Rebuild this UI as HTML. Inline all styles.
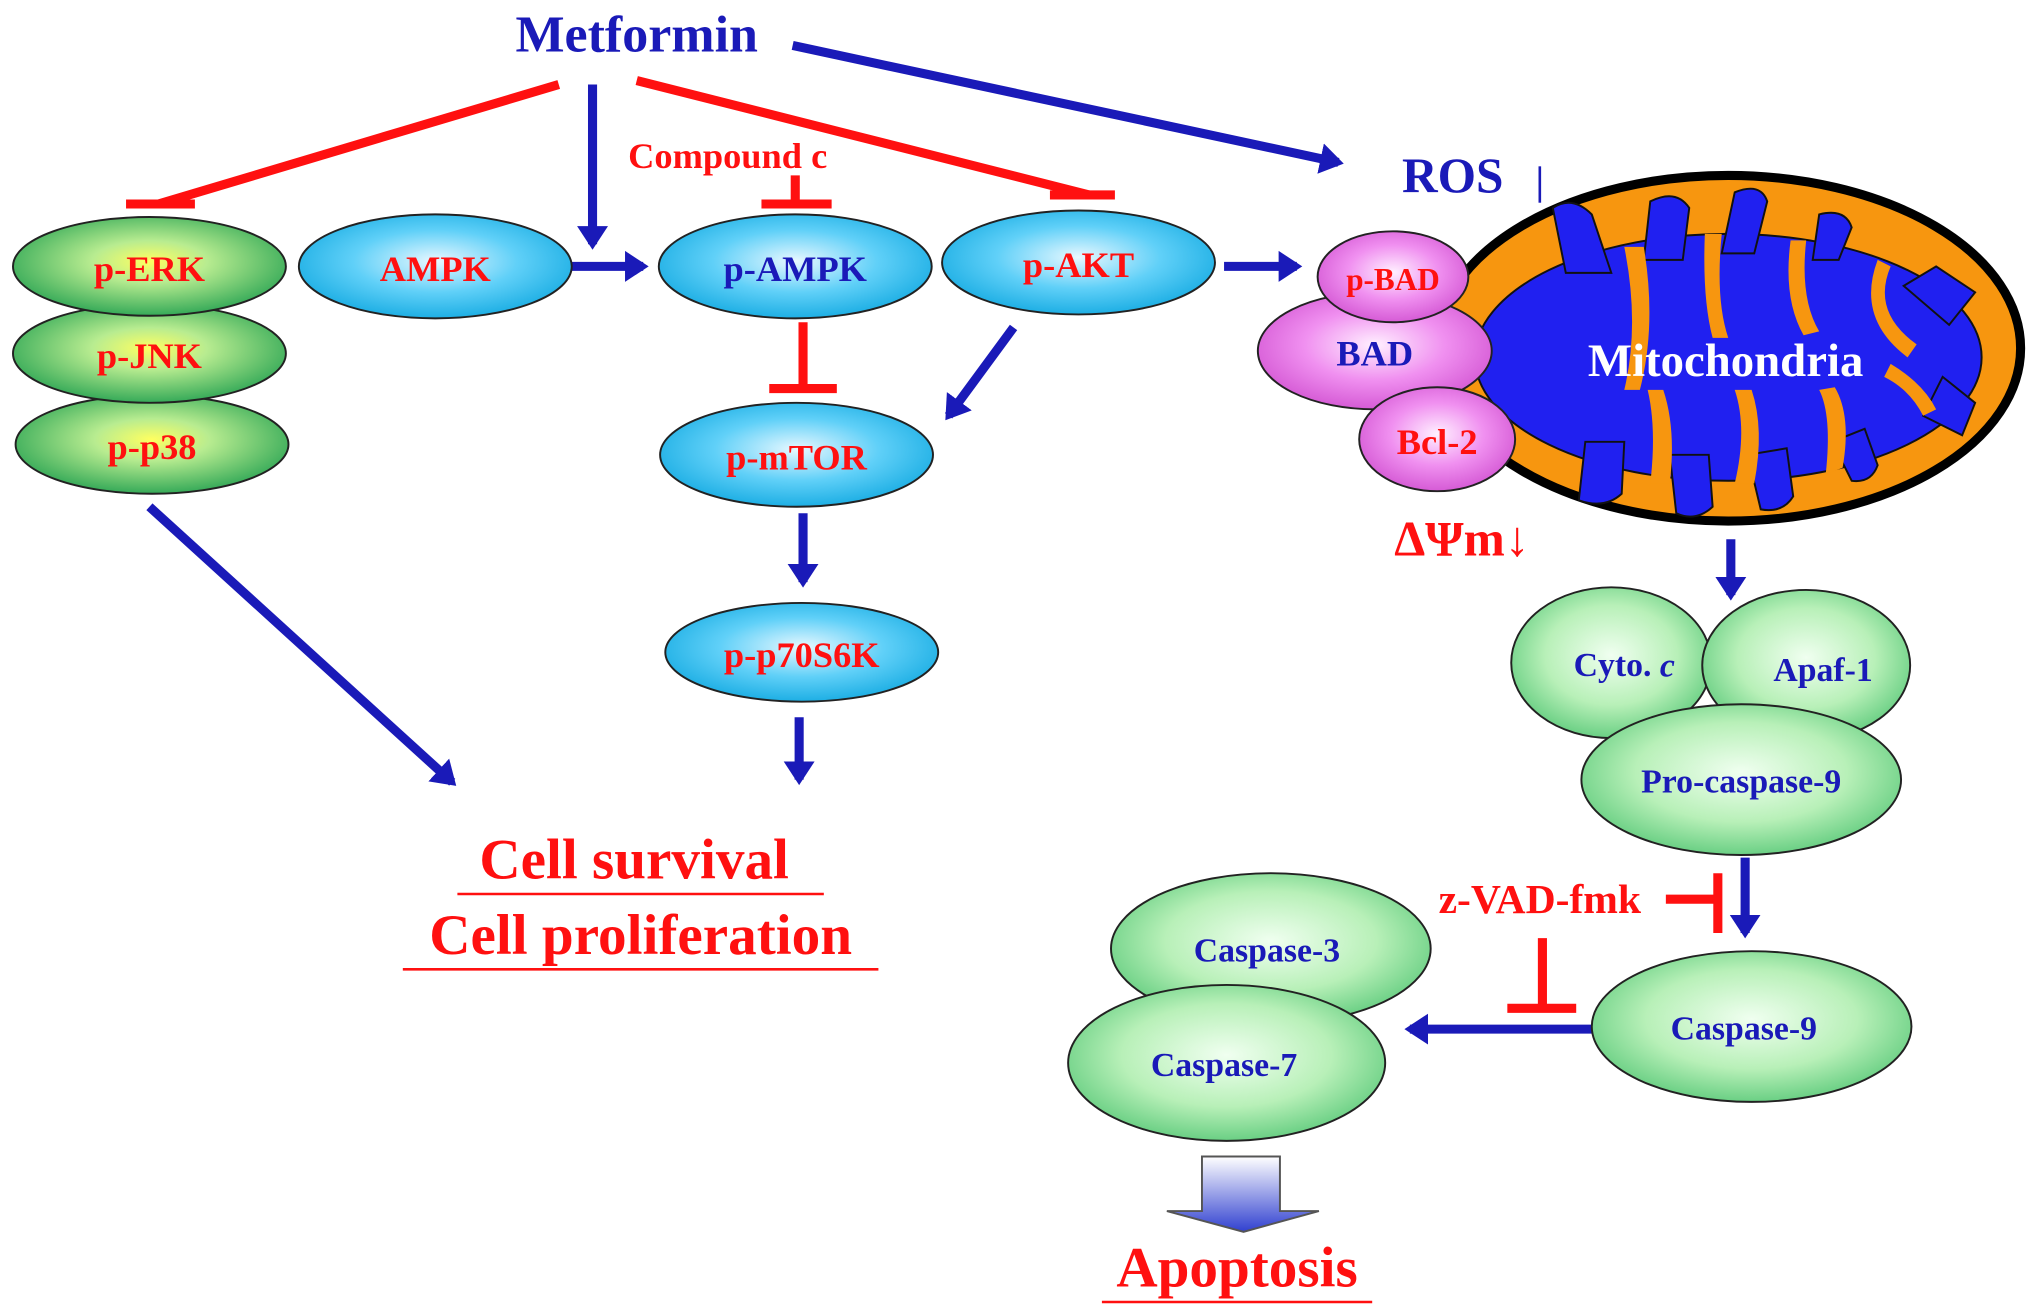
<!DOCTYPE html>
<html><head><meta charset="utf-8"><style>html,body{margin:0;padding:0;background:#fff}svg{display:block}</style></head><body>
<svg width="2031" height="1315" viewBox="0 0 1563 1012" preserveAspectRatio="none" xmlns="http://www.w3.org/2000/svg" font-family="Liberation Serif, serif" font-weight="bold">
<defs>
<radialGradient id="g" cx="50%" cy="45%" r="60%"><stop offset="0" stop-color="#ffff60"/><stop offset="0.35" stop-color="#b8ec90"/><stop offset="1" stop-color="#22a050"/></radialGradient>
<radialGradient id="c" cx="50%" cy="45%" r="60%"><stop offset="0" stop-color="#e8f8ff"/><stop offset="0.5" stop-color="#60d0f8"/><stop offset="1" stop-color="#10a8e0"/></radialGradient>
<radialGradient id="p" cx="50%" cy="45%" r="60%"><stop offset="0" stop-color="#fff0ff"/><stop offset="0.5" stop-color="#f090f0"/><stop offset="1" stop-color="#d050d0"/></radialGradient>
<radialGradient id="lg" cx="50%" cy="45%" r="60%"><stop offset="0" stop-color="#f0fff0"/><stop offset="0.55" stop-color="#b8f0b8"/><stop offset="1" stop-color="#58c878"/></radialGradient>
<linearGradient id="fa" x1="0" y1="0" x2="0" y2="1"><stop offset="0" stop-color="#ffffff"/><stop offset="1" stop-color="#3040d0"/></linearGradient>
<marker id="a" markerWidth="4" markerHeight="4" refX="2" refY="2" orient="auto" markerUnits="strokeWidth"><path d="M0,0.3 L2.6,2 L0,3.7z" fill="#1a1ab8"/></marker>
</defs>
<g stroke="#1a1ab8" stroke-width="7" marker-end="url(#a)" fill="none">
<line x1="610" y1="35" x2="1030" y2="125"/>
<line x1="456" y1="65" x2="456" y2="188"/>
<line x1="440" y1="205" x2="495" y2="205"/>
<line x1="780" y1="252" x2="730" y2="320"/>
<line x1="942" y1="205" x2="998" y2="205"/>
<line x1="618" y1="395" x2="618" y2="448"/>
<line x1="615" y1="552" x2="615" y2="600"/>
<line x1="115" y1="390" x2="348" y2="602"/>
<line x1="1332" y1="415" x2="1332" y2="458"/>
<line x1="1343" y1="660" x2="1343" y2="718"/>
<line x1="1228" y1="792" x2="1085" y2="792"/>
</g>
<g stroke="#ff1010" stroke-width="7" fill="none">
<line x1="430" y1="65" x2="122" y2="157"/><line x1="97" y1="157" x2="150" y2="157"/>
<line x1="490" y1="62" x2="838" y2="150"/><line x1="808" y1="150" x2="858" y2="150"/>
<line x1="612" y1="135" x2="612" y2="157"/><line x1="586" y1="157" x2="640" y2="157"/>
<line x1="618" y1="248" x2="618" y2="298"/><line x1="592" y1="299" x2="644" y2="299"/>
<line x1="1282" y1="692" x2="1322" y2="692"/><line x1="1322" y1="672" x2="1322" y2="718"/>
<line x1="1187" y1="722" x2="1187" y2="775"/><line x1="1160" y1="776" x2="1213" y2="776"/>
</g>
<g stroke="#222" stroke-width="1.5">
<ellipse cx="117" cy="342" rx="105" ry="38" fill="url(#g)"/>
<ellipse cx="115" cy="272" rx="105" ry="38" fill="url(#g)"/>
<ellipse cx="115" cy="205" rx="105" ry="38" fill="url(#g)"/>
<ellipse cx="335" cy="205" rx="105" ry="40" fill="url(#c)"/>
<ellipse cx="612" cy="205" rx="105" ry="40" fill="url(#c)"/>
<ellipse cx="830" cy="202" rx="105" ry="40" fill="url(#c)"/>
<ellipse cx="613" cy="350" rx="105" ry="40" fill="url(#c)"/>
<ellipse cx="617" cy="502" rx="105" ry="38" fill="url(#c)"/>
</g>
<!-- mitochondria -->
<ellipse cx="1330" cy="268" rx="225" ry="133" fill="#f7960f" stroke="#000" stroke-width="7"/>
<g fill="#2020f0" stroke="#111" stroke-width="1.5">
<ellipse cx="1330" cy="275" rx="195" ry="95"/>
<path d="M1205,210 L1195,160 Q1210,150 1225,165 L1240,210z"/>
<path d="M1265,200 L1270,155 Q1290,145 1300,160 L1295,200z"/>
<path d="M1325,195 L1335,148 Q1355,140 1360,155 L1350,195z"/>
<path d="M1395,200 L1400,165 Q1420,160 1425,175 L1415,200z"/>
<path d="M1465,220 L1490,205 L1520,225 L1500,250z"/>
<path d="M1220,340 L1215,385 Q1235,392 1248,380 L1250,340z"/>
<path d="M1285,350 L1290,395 Q1305,402 1318,390 L1315,350z"/>
<path d="M1345,350 L1355,392 Q1372,395 1380,382 L1375,345z"/>
<path d="M1410,340 L1425,370 Q1440,372 1445,358 L1435,330z"/>
<path d="M1495,290 L1520,310 L1510,335 L1480,320z"/>
</g>
<g fill="#f7960f">
<path d="M1265,190 Q1275,250 1262,300 L1250,300 Q1262,250 1250,190z"/>
<path d="M1325,180 Q1320,230 1330,260 L1318,260 Q1310,230 1312,180z"/>
<path d="M1390,185 Q1385,230 1400,255 L1388,258 Q1372,230 1378,185z"/>
<path d="M1455,205 Q1440,240 1475,265 L1468,275 Q1428,245 1445,200z"/>
<path d="M1270,372 Q1275,330 1268,300 L1280,300 Q1290,330 1285,372z"/>
<path d="M1335,372 Q1345,330 1335,300 L1348,300 Q1358,330 1350,372z"/>
<path d="M1405,365 Q1410,320 1400,300 L1412,298 Q1425,320 1418,360z"/>
<path d="M1480,320 Q1470,300 1450,290 L1455,280 Q1480,295 1490,315z"/>
</g>
<g stroke="#222" stroke-width="1.5">
<ellipse cx="1058" cy="270" rx="90" ry="45" fill="url(#p)"/>
<ellipse cx="1072" cy="213" rx="58" ry="35" fill="url(#p)"/>
<ellipse cx="1106" cy="338" rx="60" ry="40" fill="url(#p)"/>
<ellipse cx="1240" cy="510" rx="77" ry="58" fill="url(#lg)"/>
<ellipse cx="1390" cy="512" rx="80" ry="58" fill="url(#lg)"/>
<ellipse cx="1340" cy="600" rx="123" ry="58" fill="url(#lg)"/>
<ellipse cx="1348" cy="790" rx="123" ry="58" fill="url(#lg)"/>
<ellipse cx="978" cy="730" rx="123" ry="58" fill="url(#lg)"/>
<ellipse cx="944" cy="818" rx="122" ry="60" fill="url(#lg)"/>
</g>
<path d="M925,890 L985,890 L985,932 L1015,932 L957,948 L898,932 L925,932z" fill="url(#fa)" stroke="#555" stroke-width="1.5"/>
<line x1="1185" y1="128" x2="1185" y2="156" stroke="#1a1ab8" stroke-width="2"/>
<g text-anchor="middle" dominant-baseline="central">
<text x="490" y="27" font-size="40" fill="#1a1ab8">Metformin</text>
<text x="560" y="120" font-size="28" fill="#ff1010">Compound c</text>
<g font-size="28" fill="#ff1010">
<text x="115" y="207">p-ERK</text><text x="115" y="274">p-JNK</text><text x="117" y="344">p-p38</text>
<text x="335" y="207">AMPK</text><text x="830" y="204">p-AKT</text><text x="613" y="352">p-mTOR</text><text x="617" y="504">p-p70S6K</text>
<text x="1072" y="215" font-size="24">p-BAD</text><text x="1106" y="340">Bcl-2</text>
</g>
<text x="612" y="207" font-size="28" fill="#1a1ab8">p-AMPK</text>
<text x="1058" y="272" font-size="28" fill="#1a1ab8">BAD</text>
<text x="1118" y="135" font-size="38" fill="#1a1ab8">ROS</text>
<text x="1165" y="180" font-size="2" fill="#1a1ab8"> </text>
<text x="1328" y="278" font-size="36" fill="#fff">Mitochondria</text>
<text x="1125" y="415" font-size="38" fill="#ff1010">ΔΨm↓</text>
<g font-size="26" fill="#1a1ab8">
<text x="1250" y="512">Cyto. <tspan font-style="italic">c</tspan></text><text x="1403" y="516">Apaf-1</text>
<text x="1340" y="602">Pro-caspase-9</text><text x="1342" y="792">Caspase-9</text>
<text x="975" y="732">Caspase-3</text><text x="942" y="820">Caspase-7</text>
</g>
<text x="1185" y="692" font-size="32" fill="#ff1010">z-VAD-fmk</text>
<text x="488" y="662" font-size="44" fill="#ff1010">Cell survival</text>
<text x="493" y="720" font-size="44" fill="#ff1010">Cell proliferation</text>
<text x="952" y="976" font-size="44" fill="#ff1010">Apoptosis</text>
</g>
<g stroke="#ff1010" stroke-width="2">
<line x1="352" y1="688" x2="634" y2="688"/>
<line x1="310" y1="746" x2="676" y2="746"/>
<line x1="848" y1="1002" x2="1056" y2="1002"/>
</g>
</svg>
</body></html>
